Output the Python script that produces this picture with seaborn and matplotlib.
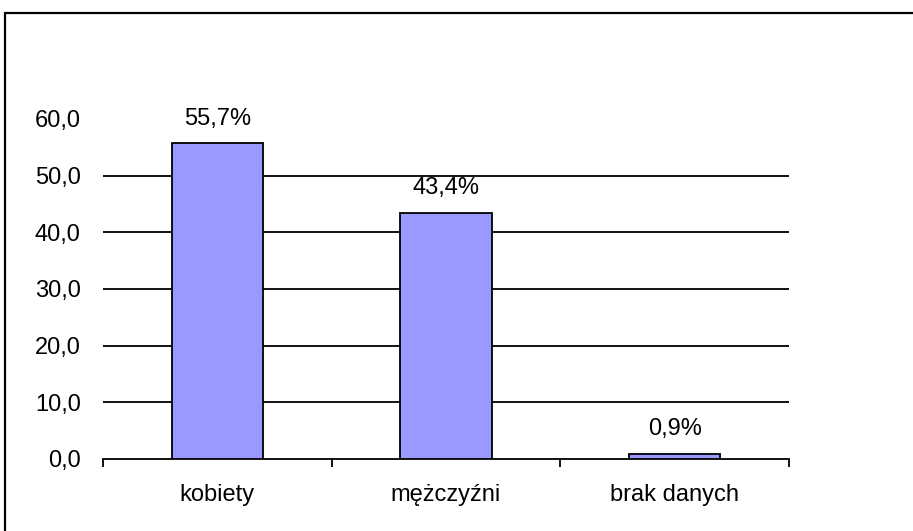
import matplotlib
matplotlib.use("Agg")
import matplotlib.pyplot as plt
import seaborn as sns
import pandas as pd
from matplotlib.patches import Rectangle

categories = ["kobiety", "mężczyźni", "brak danych"]
values = [55.7, 43.4, 0.9]
value_labels = ["55,7%", "43,4%", "0,9%"]
yticks = [0, 10, 20, 30, 40, 50, 60]
ytick_labels = ["0,0", "10,0", "20,0", "30,0", "40,0", "50,0", "60,0"]

sns.set_theme(style="white")
plt.rcParams['font.family'] = ['Liberation Sans', 'DejaVu Sans']

FS = 17
W, H = 913, 531
fig = plt.figure(figsize=(W / 100, H / 100), dpi=100)
ax = fig.add_axes([103 / W, 72 / H, (789 - 103) / W, (459 - 119) / H])

df = pd.DataFrame({"cat": categories, "val": values})
sns.barplot(data=df, x="cat", y="val", ax=ax, color="#9999FF", saturation=1,
            width=0.4, edgecolor="black", linewidth=1.3, zorder=3)

ax.set_xlim(-0.5, 2.5)
ax.set_ylim(0, 60)
ax.set_yticks(yticks)
ax.set_yticklabels(ytick_labels, fontsize=FS)
ax.set_xticks(range(len(categories)))
ax.set_xticklabels(categories, fontsize=FS)
ax.set_xlabel("")
ax.set_ylabel("")

for y in yticks[1:-1]:
    ax.axhline(y, color="black", linewidth=1.3, zorder=1)

ax.tick_params(axis="y", length=0, pad=16, colors="black")
ax.tick_params(axis="x", which="major", length=0, pad=18, colors="black")
ax.set_xticks([-0.5, 0.5, 1.5, 2.5], minor=True)
ax.tick_params(axis="x", which="minor", length=6, width=1.3, color="black", direction="out", bottom=True)

for s in ["top", "right", "left"]:
    ax.spines[s].set_visible(False)
ax.spines["bottom"].set_color("black")
ax.spines["bottom"].set_linewidth(1.3)

for i, (v, lab) in enumerate(zip(values, value_labels)):
    ax.annotate(lab, (i, v), xytext=(0, 13.5), textcoords="offset points",
                ha="center", va="baseline", fontsize=FS, color="black")

fig.patches.append(Rectangle((5 / W, -0.1), 1.2, (H - 13) / H + 0.1, transform=fig.transFigure,
                             fill=False, edgecolor="black", linewidth=1.6, clip_on=False))

fig.savefig("out.png", dpi=100)
